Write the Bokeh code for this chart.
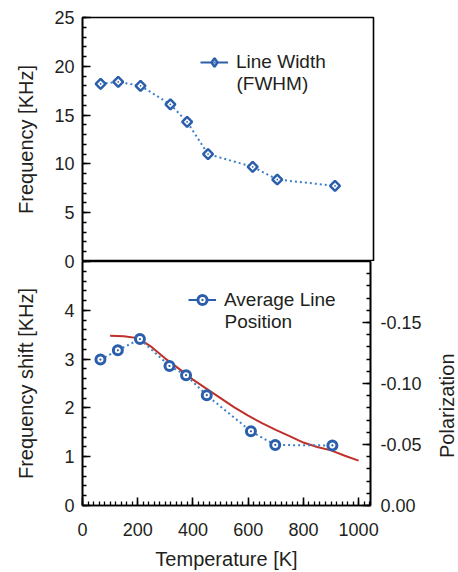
import math
from bokeh.plotting import figure
from bokeh.layouts import column, row
from bokeh.models import (Range1d, LinearAxis, FixedTicker, PrintfTickFormatter,
                          Legend, LegendItem, Label, ColumnDataSource)
from bokeh.embed import file_html
from bokeh.resources import INLINE

# ---- data ----
TEMP_K = [65, 128, 208, 315, 375, 450, 610, 698, 905]
LINE_WIDTH_KHZ = [18.2, 18.4, 18.0, 16.1, 14.3, 11.0, 9.7, 8.4, 7.75]
LINE_SHIFT_KHZ = [2.99, 3.18, 3.41, 2.86, 2.67, 2.26, 1.52, 1.24, 1.23]
FIT_T_K = [100, 150, 200, 250, 300, 350, 400, 450, 500, 550, 600, 650, 700, 750, 800, 850, 900, 950, 1000]
FIT_SHIFT_KHZ = [3.48, 3.47, 3.43, 3.25, 3.01, 2.80, 2.58, 2.39, 2.20, 2.01, 1.84, 1.69, 1.55, 1.42,
                 1.29, 1.20, 1.13, 1.02, 0.92]

X_TICKS = [0, 200, 400, 600, 800, 1000]
WIDTH_TICKS = [5, 10, 15, 20, 25]
SHIFT_TICKS = [0, 1, 2, 3, 4, 5]
SHIFT_TICK_LABELS = {5: "0"}          # the upper panel's zero sits on the shared edge
POL_TICKS = [0.0, -0.05, -0.10, -0.15]

FONT = "Liberation Sans"
TXT = "#231f20"
BLUE = "#2c5fab"
BLUE_LINE = "#3f80c6"
RED = "#c0302a"
X_MAX = 1043

def style_axis(ax):
    ax.axis_line_color = "black"
    ax.axis_line_width = 1.6
    ax.major_tick_line_color = "black"
    ax.major_tick_line_width = 1.6
    ax.minor_tick_line_color = "black"
    ax.minor_tick_line_width = 1.3
    ax.major_tick_in = 8
    ax.major_tick_out = 0
    ax.minor_tick_in = 4
    ax.minor_tick_out = 0
    ax.major_label_text_font = FONT
    ax.major_label_text_font_size = "18px"
    ax.major_label_text_color = TXT
    ax.axis_label_text_font = FONT
    ax.axis_label_text_font_size = "20px"
    ax.axis_label_text_font_style = "normal"
    ax.axis_label_text_color = TXT

def base_style(p):
    p.xgrid.visible = False
    p.ygrid.visible = False
    p.outline_line_color = "black"
    p.outline_line_width = 1.6
    p.outline_line_alpha = 1.0
    p.background_fill_color = "white"

def make_legend(p, label, renderers, loc, gh):
    lg = Legend(items=[LegendItem(label=label, renderers=renderers)], location=loc,
                glyph_width=28, glyph_height=gh, label_standoff=8, padding=0, margin=0,
                spacing=0, border_line_alpha=0, background_fill_alpha=0,
                label_text_font=FONT, label_text_font_size="19px", label_text_color=TXT)
    p.add_layout(lg, "center")

def second_line(p, text, x, y):
    p.add_layout(Label(text=text, x=x, y=y, x_units="screen", y_units="screen",
                       text_align="left", text_baseline="middle", text_font=FONT,
                       text_font_size="19px", text_color=TXT))

# ================= top panel: line width =================
p1 = figure(width=458, height=261, x_range=Range1d(0, X_MAX), y_range=Range1d(0, 25),
            output_backend="svg", toolbar_location=None,
            min_border_left=82, min_border_top=17, min_border_right=85, min_border_bottom=0)
base_style(p1)
p1.xaxis.visible = False
ya1 = p1.yaxis[0]
ya1.ticker = FixedTicker(ticks=WIDTH_TICKS, minor_ticks=list(range(0, 26)))
ya1.axis_label = "Frequency [KHz]"
style_axis(ya1)
ya1.major_label_standoff = 8
ya1.axis_label_standoff = 14

src_w = ColumnDataSource(dict(t=TEMP_K, w=LINE_WIDTH_KHZ))
p1.line("t", "w", source=src_w, line_color=BLUE_LINE, line_width=2, line_dash="2 3")
# legend-only glyphs: a one-point line (draws nothing) and a tiny diamond hidden under a marker
w_leg_line = p1.line(TEMP_K[:1], LINE_WIDTH_KHZ[:1], line_color=BLUE, line_width=2)
w_leg_mark = p1.scatter(TEMP_K[:1], LINE_WIDTH_KHZ[:1], marker="diamond_dot", size=1,
                        fill_color="white", line_color=BLUE, line_width=2.5)
p1.scatter("t", "w", source=src_w, marker="square_dot", size=7, angle=math.pi / 4,
           fill_color="white", line_color=BLUE, line_width=2.5)
make_legend(p1, "Line Width", [w_leg_line, w_leg_mark], (118, 188), 22)
second_line(p1, "(FWHM)", 154, 178)

# ================= bottom panel: average line position =================
p2 = figure(width=424, height=323, x_range=Range1d(0, X_MAX), y_range=Range1d(0, 5),
            output_backend="svg", toolbar_location=None,
            min_border_left=82, min_border_top=12, min_border_right=51, min_border_bottom=66)
base_style(p2)
p2.border_fill_alpha = 0
p2.extra_y_ranges = {"pol": Range1d(0, -0.2)}

xax = p2.xaxis[0]
xax.ticker = FixedTicker(ticks=X_TICKS, minor_ticks=list(range(0, X_MAX, 20)))
xax.axis_label = "Temperature [K]"
style_axis(xax)
xax.major_label_standoff = 17
xax.axis_label_standoff = 9

ya2 = p2.yaxis[0]
ya2.ticker = FixedTicker(ticks=SHIFT_TICKS, minor_ticks=[i / 5 for i in range(0, 26)])
ya2.major_label_overrides = SHIFT_TICK_LABELS
ya2.axis_label = "Frequency shift [KHz]"
style_axis(ya2)
ya2.major_label_standoff = 8
ya2.axis_label_standoff = 24

rax = LinearAxis(y_range_name="pol",
                 ticker=FixedTicker(ticks=POL_TICKS, minor_ticks=[-i / 100 for i in range(0, 20)]),
                 formatter=PrintfTickFormatter(format="%.2f"))
style_axis(rax)
rax.major_label_standoff = 10
p2.add_layout(rax, "right")

p2.line(FIT_T_K, FIT_SHIFT_KHZ, line_color=RED, line_width=2)
src_s = ColumnDataSource(dict(t=TEMP_K, s=LINE_SHIFT_KHZ))
p2.line("t", "s", source=src_s, line_color=BLUE_LINE, line_width=2, line_dash="2 3")
s_mark = p2.scatter("t", "s", source=src_s, marker="circle_dot", size=9,
                    fill_color="white", line_color=BLUE, line_width=3)
s_leg_line = p2.line(TEMP_K[:1], LINE_SHIFT_KHZ[:1], line_color=BLUE, line_width=2)
make_legend(p2, "Average Line", [s_leg_line, s_mark], (106, 194), 23)
second_line(p2, "Position", 142, 184)

# ===== right-hand title strip (reads bottom-to-top like the reference) =====
p3 = figure(width=34, height=323, x_range=Range1d(0, 1), y_range=Range1d(0, 1),
            output_backend="svg", toolbar_location=None,
            min_border_left=33, min_border_right=0, min_border_top=12, min_border_bottom=66)
p3.xaxis.visible = False
p3.xgrid.visible = False
p3.ygrid.visible = False
p3.outline_line_color = None
p3.background_fill_alpha = 0
p3.border_fill_alpha = 0
ya3 = p3.yaxis[0]
ya3.ticker = FixedTicker(ticks=[])
ya3.axis_line_color = None
ya3.major_tick_in = 0
ya3.major_tick_out = 0
ya3.minor_tick_in = 0
ya3.minor_tick_out = 0
ya3.major_label_standoff = 0
ya3.axis_label = "Polarization" + "\u00a0" * 8
ya3.axis_label_standoff = 0
ya3.axis_label_text_font = FONT
ya3.axis_label_text_font_size = "20px"
ya3.axis_label_text_font_style = "normal"
ya3.axis_label_text_color = TXT

bottom = row(p2, p3, spacing=0, margin=(-12, 0, 0, 0))
layout = column(p1, bottom, spacing=0)
open("out.html", "w").write(file_html(layout, INLINE))
